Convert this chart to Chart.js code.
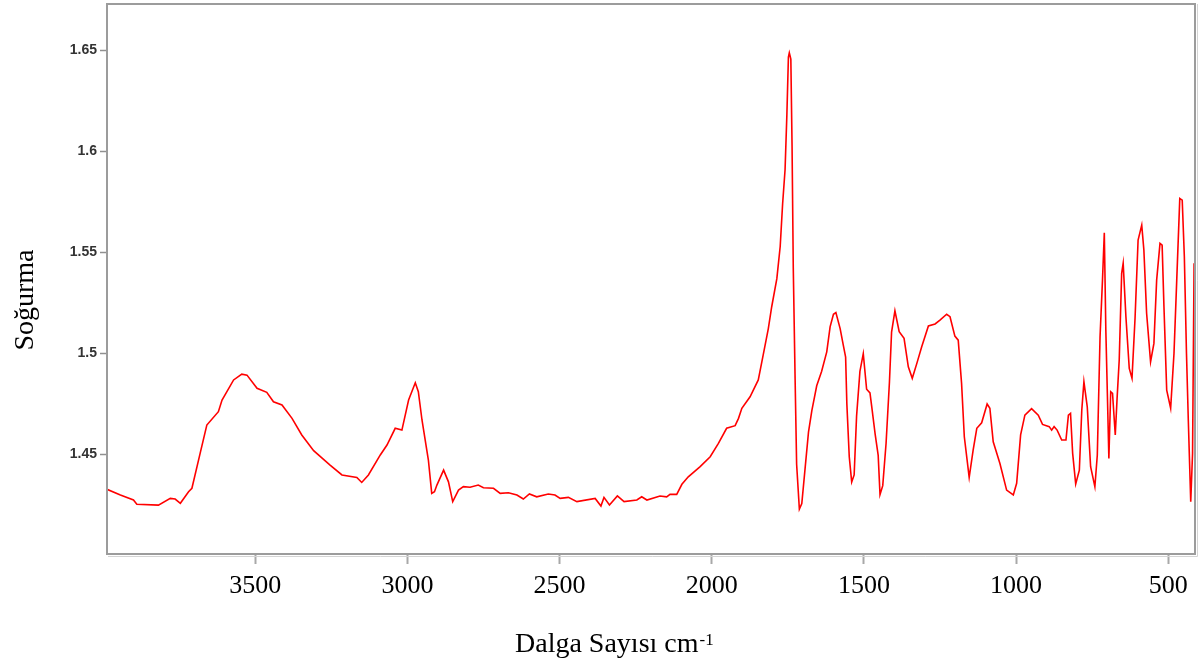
<!DOCTYPE html>
<html>
<head>
<meta charset="utf-8">
<script src="https://cdn.jsdelivr.net/npm/chart.js@4.4.1/dist/chart.umd.min.js"></script>
<style>
  html, body { margin: 0; padding: 0; background: #fff; }
  #wrap { width: 1198px; height: 668px; }
</style>
</head>
<body>
<div id="wrap"><canvas id="spectrum"></canvas></div>
<script>
// IR spectrum (cm-1, absorbance)
const wavenumbers = [
    3987, 3943, 3900, 3889, 3818, 3779, 3763, 3746, 3719, 3708,
    3681, 3659, 3621, 3609, 3571, 3544, 3527, 3494, 3462, 3440,
    3412, 3379, 3347, 3308, 3254, 3215, 3166, 3150, 3128, 3089,
    3067, 3040, 3018, 2996, 2974, 2964, 2952, 2931, 2920, 2911,
    2903, 2881, 2865, 2851, 2832, 2816, 2794, 2767, 2750, 2717,
    2695, 2668, 2640, 2619, 2599, 2575, 2537, 2515, 2498, 2471,
    2443, 2383, 2364, 2354, 2336, 2310, 2288, 2246, 2230, 2213,
    2170, 2148, 2137, 2115, 2098, 2077, 2038, 2005, 1978, 1951,
    1923, 1912, 1901, 1874, 1847, 1830, 1814, 1803, 1786, 1775,
    1767, 1759, 1753, 1748, 1745, 1740, 1736, 1732, 1726, 1721,
    1712, 1704, 1693, 1682, 1671, 1655, 1639, 1622, 1611, 1600,
    1592, 1578, 1568, 1560, 1556, 1548, 1540, 1532, 1524, 1513,
    1502, 1491, 1480, 1474, 1463, 1453, 1447, 1438, 1427, 1416,
    1409, 1398, 1384, 1368, 1354, 1341, 1326, 1310, 1288, 1266,
    1250, 1228, 1217, 1201, 1190, 1179, 1170, 1154, 1141, 1129,
    1113, 1095, 1086, 1075, 1053, 1031, 1009, 998, 985, 971,
    949, 927, 913, 891, 883, 875, 865, 850, 836, 828,
    821, 814, 804, 792, 784, 777, 766, 755, 741, 733,
    724, 716, 710, 705, 700, 695, 689, 683, 674, 668,
    661, 653, 648, 639, 628, 619, 609, 599, 587, 580,
    571, 558, 547, 538, 527, 520, 514, 505, 492, 481,
    472, 462, 454, 447, 440, 434, 426, 420, 415
];
const absorbance = [
    1.4327, 1.4299, 1.4274, 1.4253, 1.4249, 1.4282, 1.4279, 1.4258, 1.4315, 1.4332,
    1.4505, 1.4645, 1.4711, 1.4769, 1.4868, 1.4897, 1.4892, 1.4827, 1.4807, 1.4760,
    1.4744, 1.4678, 1.4596, 1.4518, 1.4447, 1.4398, 1.4386, 1.4361, 1.4398, 1.4497,
    1.4546, 1.4629, 1.4620, 1.4769, 1.4854, 1.4810, 1.4670, 1.4472, 1.4307, 1.4315,
    1.4348, 1.4422, 1.4364, 1.4266, 1.4323, 1.4340, 1.4337, 1.4348, 1.4335, 1.4332,
    1.4307, 1.4310, 1.4299, 1.4279, 1.4304, 1.4290, 1.4304, 1.4299, 1.4282, 1.4287,
    1.4266, 1.4282, 1.4244, 1.4287, 1.4249, 1.4294, 1.4266, 1.4274, 1.4290, 1.4274,
    1.4294, 1.4290, 1.4302, 1.4302, 1.4352, 1.4389, 1.4439, 1.4488, 1.4554, 1.4629,
    1.4642, 1.4678, 1.4728, 1.4785, 1.4868, 1.4998, 1.5122, 1.5229, 1.5369, 1.5528,
    1.5740, 1.5908, 1.6182, 1.6465, 1.6486, 1.6455, 1.6023, 1.5422, 1.4874, 1.4451,
    1.4229, 1.4256, 1.4433, 1.4610, 1.4716, 1.4839, 1.4910, 1.5007, 1.5131, 1.5193,
    1.5201, 1.5122, 1.5043, 1.4981, 1.4751, 1.4487, 1.4363, 1.4398, 1.4689, 1.4910,
    1.4998, 1.4822, 1.4804, 1.4734, 1.4600, 1.4495, 1.4301, 1.4345, 1.4556, 1.4858,
    1.5105, 1.5210, 1.5107, 1.5074, 1.4933, 1.4876, 1.4950, 1.5032, 1.5135, 1.5145,
    1.5164, 1.5193, 1.5181, 1.5085, 1.5065, 1.4851, 1.4587, 1.4386, 1.4521, 1.4629,
    1.4656, 1.4749, 1.4728, 1.4562, 1.4455, 1.4323, 1.4299, 1.4357, 1.4596, 1.4694,
    1.4726, 1.4694, 1.4648, 1.4637, 1.4620, 1.4637, 1.4620, 1.4571, 1.4571, 1.4694,
    1.4703, 1.4505, 1.4353, 1.4422, 1.4719, 1.4859, 1.4735, 1.4439, 1.4340, 1.4497,
    1.5082, 1.5362, 1.5596, 1.5115, 1.4802, 1.4480, 1.4810, 1.4802, 1.4596, 1.4777,
    1.4967, 1.5395, 1.5445, 1.5181, 1.4925, 1.4876, 1.5173, 1.5560, 1.5634, 1.5511,
    1.5198, 1.4958, 1.5049, 1.5362, 1.5544, 1.5535, 1.5230, 1.4818, 1.4728, 1.5000,
    1.5362, 1.5766, 1.5758, 1.5478, 1.5000, 1.4670, 1.4266, 1.4505, 1.5445
];

const xTickValues = [3500, 3000, 2500, 2000, 1500, 1000, 500];
const yTickValues = [1.45, 1.5, 1.55, 1.6, 1.65];
const xLimits = [412, 3987];
const yLimits = [1.4007, 1.6728];

const xTitle = 'Dalga Sayısı cm';
const xTitleSup = '-1';
const yTitle = 'Soğurma';


// gray box round the plot, and the two axis titles (x one has a superscript)
const framePlugin = {
    id: 'frame',
    afterDraw(chart) {
        const ctx = chart.ctx;
        const a = chart.chartArea;
        ctx.save();
        ctx.strokeStyle = '#9c9c9c';
        ctx.lineWidth = 2;
        ctx.strokeRect(a.left, a.top, a.right - a.left, a.bottom - a.top);
        ctx.strokeStyle = '#d4d4d4';
        ctx.lineWidth = 1;
        ctx.beginPath();
        ctx.moveTo(a.left + 1, a.bottom + 2.5);
        ctx.lineTo(a.right + 2.5, a.bottom + 2.5);
        ctx.lineTo(a.right + 2.5, a.top);
        ctx.stroke();

        ctx.fillStyle = '#000';
        ctx.textBaseline = 'alphabetic';
        ctx.textAlign = 'left';
        ctx.font = '28px "Liberation Serif"';
        const w = ctx.measureText(xTitle).width;
        const x0 = 515;
        ctx.fillText(xTitle, x0, 652);
        ctx.font = '17px "Liberation Serif"';
        ctx.fillText(xTitleSup, x0 + w + 1, 645);

        ctx.translate(33, 300);
        ctx.rotate(-Math.PI / 2);
        ctx.textAlign = 'center';
        ctx.font = '28px "Liberation Serif"';
        ctx.fillText(yTitle, 0, 0);
        ctx.restore();
    }
};

// no extra room for the edge labels, the plot box is fixed
function noLabelPadding(axis) {
    axis.paddingTop = 0;
    axis.paddingBottom = 0;
    axis.paddingLeft = 0;
    axis.paddingRight = 0;
}


new Chart(document.getElementById('spectrum').getContext('2d'), {
    type: 'line',
    data: {
        datasets: [{
            data: wavenumbers.map((x, i) => ({x: x, y: absorbance[i]})),
            borderColor: '#ff0000',
            borderWidth: 1.6,
            pointRadius: 0,
            pointHoverRadius: 0,
            tension: 0,
            fill: false
        }]
    },
    options: {
        responsive: true,
        maintainAspectRatio: false,
        animation: false,
        events: [],
        layout: {
            autoPadding: false,
            padding: {top: 4, right: 3, left: 0, bottom: 0}
        },
        scales: {
            x: {
                type: 'linear',
                reverse: true,
                min: xLimits[0],
                max: xLimits[1],
                afterBuildTicks: axis => {
                    axis.ticks = xTickValues.map(v => ({value: v}));
                },
                afterFit: axis => {
                    axis.height = 114;
                    noLabelPadding(axis);
                },
                grid: {
                    drawOnChartArea: false,
                    drawTicks: true,
                    tickLength: 10,
                    tickColor: '#a8a8a8',
                    tickWidth: 2
                },
                border: {display: false},
                ticks: {
                    color: '#000',
                    padding: 7,
                    maxRotation: 0,
                    autoSkip: false,
                    font: {family: 'Liberation Serif', size: 26},
                    callback: v => String(v)
                }
            },
            y: {
                type: 'linear',
                min: yLimits[0],
                max: yLimits[1],
                afterBuildTicks: axis => {
                    axis.ticks = yTickValues.map(v => ({value: v}));
                },
                afterFit: axis => {
                    axis.width = 107;
                    noLabelPadding(axis);
                },
                grid: {
                    drawOnChartArea: false,
                    drawTicks: true,
                    tickLength: 7,
                    tickColor: '#909090',
                    tickWidth: 1.5
                },
                border: {display: false},
                ticks: {
                    color: '#333',
                    padding: 3,
                    autoSkip: false,
                    font: {family: 'Liberation Sans', size: 14, weight: 'bold'},
                    callback: v => String(v)
                }
            }
        },
        plugins: {
            legend: {display: false},
            tooltip: {enabled: false}
        }
    },
    plugins: [framePlugin]
});
</script>
</body>
</html>
